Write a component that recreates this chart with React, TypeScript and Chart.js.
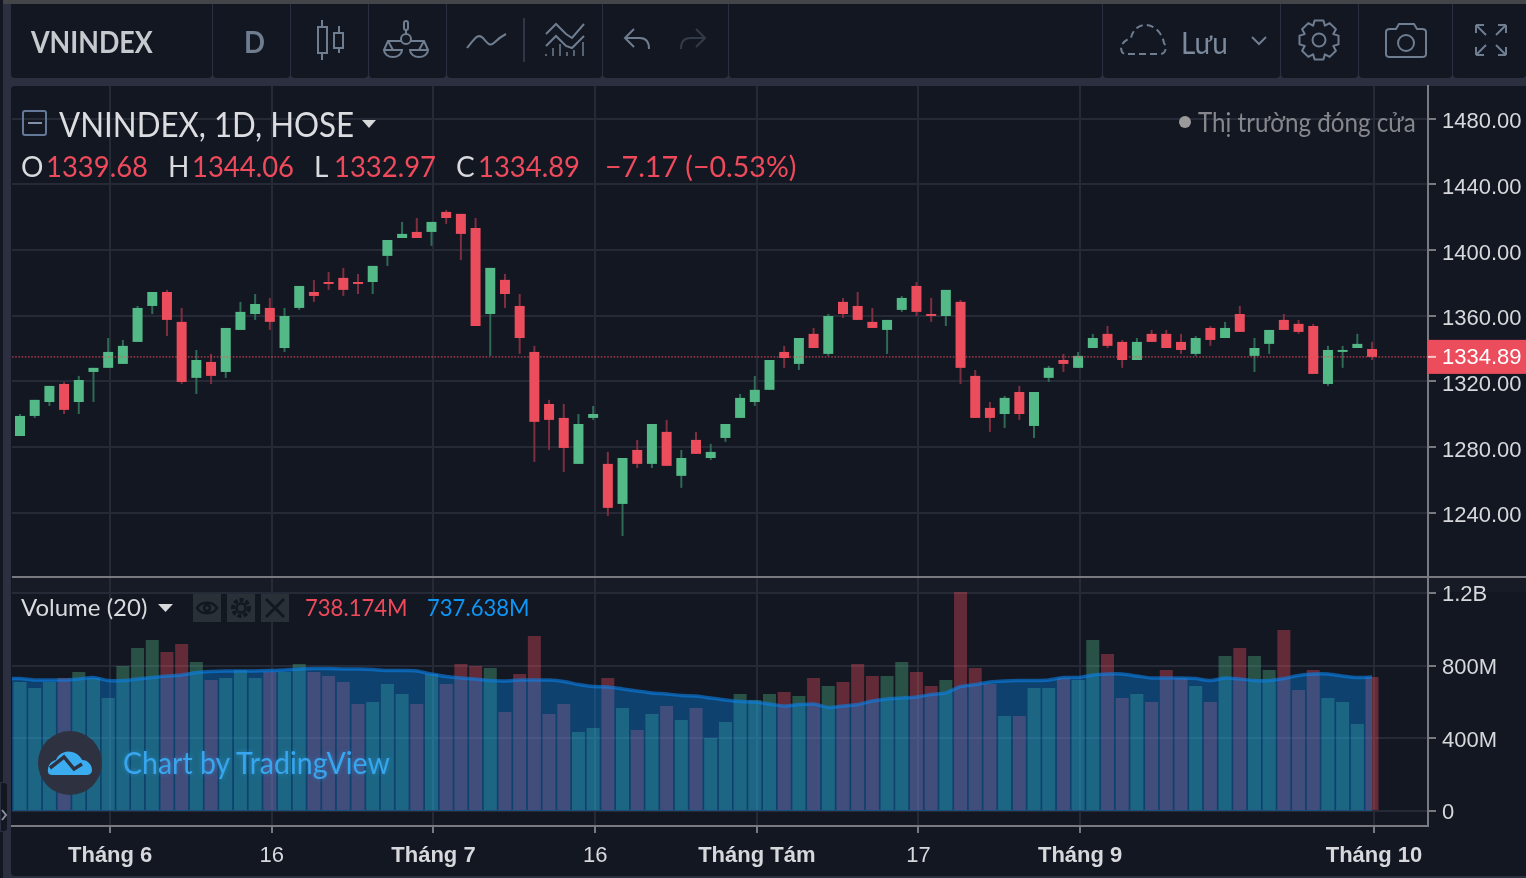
import React, { useEffect, useRef } from "react";
import { Chart, registerables } from "chart.js";

Chart.register(...registerables);

const opens = [1286.7,1298.9,1307.4,1318.4,1307.4,1325.7,1328.2,1330.6,1344.0,1365.9,1374.4,1356.2,1322.1,1331.8,1325.7,1351.3,1361.0,1364.7,1340.3,1364.7,1374.4,1380.5,1383.0,1380.5,1380.5,1396.4,1407.3,1411.0,1411.0,1423.2,1422.0,1413.4,1361.0,1381.8,1365.9,1337.9,1306.2,1297.7,1269.7,1297.7,1269.7,1245.3,1278.2,1269.7,1289.2,1262.4,1284.3,1273.3,1285.5,1297.7,1307.4,1314.8,1337.9,1330.6,1348.9,1336.7,1368.4,1365.9,1356.2,1351.3,1363.5,1378.1,1361.0,1359.8,1368.4,1323.3,1303.8,1300.1,1313.5,1292.8,1322.1,1333.0,1328.2,1340.3,1348.9,1344.0,1333.0,1348.9,1348.9,1344.0,1336.7,1352.5,1346.4,1361.0,1335.5,1342.8,1357.4,1355.0,1353.7,1318.4,1337.9,1340.3,1339.68];
const highs = [1300.1,1308.7,1317.2,1319.6,1323.3,1328.2,1346.4,1345.2,1365.9,1374.4,1375.7,1364.7,1339.1,1336.7,1352.5,1368.4,1373.2,1370.8,1364.7,1378.1,1381.8,1386.6,1389.1,1385.4,1390.3,1406.1,1417.1,1419.5,1417.1,1424.4,1422.0,1419.5,1389.1,1385.4,1373.2,1341.6,1308.7,1306.2,1300.1,1305.0,1277.0,1273.3,1284.3,1294.0,1296.5,1278.2,1289.2,1281.9,1294.0,1312.3,1323.3,1333.0,1341.6,1346.4,1352.5,1361.0,1370.8,1374.4,1364.7,1357.4,1372.0,1380.5,1370.8,1375.7,1369.6,1326.9,1307.4,1311.1,1317.2,1313.5,1329.4,1336.7,1337.9,1348.9,1353.7,1345.2,1346.4,1351.3,1351.3,1348.9,1347.6,1353.7,1356.2,1365.9,1346.4,1351.3,1361.0,1357.4,1355.0,1341.6,1341.6,1348.9,1344.06];
const lows = [1286.7,1297.7,1305.0,1300.1,1300.1,1307.4,1328.2,1330.6,1344.0,1361.0,1347.6,1318.4,1312.3,1318.4,1322.1,1351.3,1357.4,1351.3,1337.9,1363.5,1368.4,1375.7,1372.0,1373.2,1373.2,1390.3,1407.3,1407.3,1402.5,1415.9,1393.9,1353.7,1335.5,1364.7,1336.7,1270.9,1278.2,1264.8,1269.7,1296.5,1238.0,1225.8,1267.2,1267.2,1268.5,1255.1,1275.8,1272.1,1283.1,1297.7,1305.0,1314.8,1328.2,1326.9,1340.3,1335.5,1358.6,1357.4,1352.5,1336.7,1362.3,1359.8,1356.2,1353.7,1318.4,1297.7,1289.2,1291.6,1296.5,1285.5,1319.6,1325.7,1328.2,1340.3,1340.3,1328.2,1333.0,1344.0,1340.3,1336.7,1335.5,1341.6,1346.4,1350.1,1325.7,1336.7,1351.3,1348.9,1324.5,1317.2,1328.2,1340.3,1332.97];
const closes = [1298.9,1308.7,1317.2,1302.6,1320.8,1328.2,1337.9,1341.6,1364.7,1374.4,1357.4,1319.6,1333.0,1323.3,1352.5,1362.3,1367.1,1356.2,1359.8,1378.1,1372.0,1379.3,1375.7,1379.3,1390.3,1406.1,1409.8,1407.3,1417.1,1419.5,1409.8,1353.7,1389.1,1373.2,1346.4,1295.3,1296.5,1279.4,1294.0,1300.1,1242.9,1273.3,1269.7,1294.0,1268.5,1273.3,1275.8,1277.0,1294.0,1309.9,1314.8,1333.0,1334.2,1346.4,1340.3,1359.8,1361.0,1357.4,1352.5,1357.4,1370.8,1362.3,1359.8,1375.7,1328.2,1297.7,1297.7,1309.9,1300.1,1313.5,1328.2,1330.6,1335.5,1346.4,1341.6,1333.0,1344.0,1344.0,1340.3,1339.1,1346.4,1345.2,1352.5,1350.1,1340.3,1351.3,1351.3,1350.1,1324.5,1339.1,1339.1,1342.8,1334.89];
const volumes = [710,677,710,732,765,732,622,798,897,941,875,919,820,721,732,776,732,765,765,809,765,743,710,589,600,699,644,589,754,699,809,798,787,545,754,963,534,589,435,457,732,567,446,534,578,501,567,402,490,644,611,644,655,633,732,688,710,809,743,743,820,765,688,721,1206,787,699,523,523,677,677,732,721,941,864,622,644,600,776,732,688,600,853,897,853,776,996,666,776,622,600,479,738.174];
const volumeMa = [729,721,721,721,727,735,718,718,727,735,743,749,762,768,771,771,771,773,776,782,784,784,782,782,779,773,773,771,754,740,732,727,718,716,721,721,721,713,696,685,683,672,661,650,644,636,633,622,611,603,600,589,578,586,589,570,578,586,606,617,622,628,641,650,685,696,710,716,718,718,721,735,735,749,754,754,743,732,732,732,729,718,732,727,718,718,729,746,754,754,743,735,737.638];
const maBefore = 729;
const lastClose = 1334.89;
const priceTicks = [1240,1280,1320,1360,1400,1440,1480];
const volumeTicks = [0,400,800,1200];
const volumeTickLabels = ["0","400M","800M","1.2B"];
const timeTickIndex = [6,17,28,39,50,61,72,92];
const timeTickLabels = ["Tháng 6","16","Tháng 7","16","Tháng Tám","17","Tháng 9","Tháng 10"];
const timeTickBold = [true,false,true,false,true,false,true,true];

const UP = "#53b987", DOWN = "#eb4d5c";
const UP_WICK = "#2f6a55", DOWN_WICK = "#7f2e40";
const UP_VOL = "rgba(83,185,135,0.36)", DOWN_VOL = "rgba(235,77,92,0.37)";
const GRID = "#262a37", AXIS = "#787a80", LABEL = "#d6d8dc";
const FONT = "'Liberation Sans', Arial, sans-serif";
const UI = "Lato, 'Noto Sans', sans-serif";

const pxPerBar = 14.696;
const dataMin = -8 / pxPerBar;
const dataMax = dataMin + 1416 / pxPerBar;
const gridShift = 2 / pxPerBar;

const isUp = (i: number) => closes[i] >= opens[i];

const decorations = {
  id: "decorations",
  afterDraw(chart: any) {
    const { ctx, scales, chartArea, width } = chart;
    ctx.save();
    ctx.fillStyle = AXIS;
    ctx.fillRect(chartArea.left, scales.y.bottom, width - chartArea.left, 2);
    const y = scales.y.getPixelForValue(lastClose);
    ctx.fillStyle = DOWN;
    ctx.fillRect(chartArea.right, y - 17, width - chartArea.right, 34);
    ctx.fillStyle = "#f5c5ca";
    ctx.fillRect(chartArea.right, y - 1, 8, 2);
    ctx.fillStyle = "#ffffff";
    ctx.font = `22px ${FONT}`;
    ctx.textBaseline = "middle";
    ctx.textAlign = "left";
    ctx.fillText(lastClose.toFixed(2), 1442, y + 1);
    ctx.restore();
  },
};

function Txt({ x, y, size, color, children, weight, font, sx }: any) {
  return (
    <div
      style={{
        position: "absolute", left: x, top: y, transform: "translateY(-50%)" + (sx ? ` scaleX(${sx})` : ""),
        transformOrigin: "left center", fontSize: size, color, fontWeight: weight || 400,
        fontFamily: font || UI, whiteSpace: "nowrap", lineHeight: 1,
      }}
    >
      {children}
    </div>
  );
}

const panels = [[11,212],[213,290],[291,368],[369,446],[447,602],[603,728],[729,1102],[1103,1280],[1281,1358],[1359,1452],[1453,1526]];

function gearPath(cx: number, cy: number, outer: number, inner: number, teeth: number) {
  const pts: string[] = [];
  const step = (Math.PI * 2) / teeth;
  for (let i = 0; i < teeth; i++) {
    const a = i * step - Math.PI / 2;
    [[inner, -0.5], [outer, -0.28], [outer, 0.28], [inner, 0.5]].forEach(([r, f]) => {
      pts.push(`${(cx + r * Math.cos(a + f * step)).toFixed(1)} ${(cy + r * Math.sin(a + f * step)).toFixed(1)}`);
    });
  }
  return "M" + pts.join("L") + "Z";
}

function Icons() {
  const s = "#6e7d90";
  return (
    <svg width={1526} height={878} style={{ position: "absolute", left: 0, top: 0 }} fill="none" stroke={s} strokeWidth={2}>
      {/* candles */}
      <path d="M322 20V27M322 53V60M339 26V33M339 48V53" /><rect x={318} y={27} width={9} height={26} /><rect x={334} y={33} width={9} height={15} />
      {/* compare */}
      <path d="M406 30V35M401 41H388L384 50M411 41H424L428 50M388 41L393 50M424 41L419 50" />
      <circle cx={406} cy={39} r={5} /><rect x={404} y={21} width={4} height={9} rx={2} />
      <path d="M384 50A9 7 0 0 0 402 50ZM410 50A9 7 0 0 0 428 50Z" />
      {/* line + indicators */}
      <path d="M467 48C475 38 478 33 483 38C488 44 490 47 495 42C499 38 502 36 506 34" />
      <path d="M524 18V62" strokeWidth={1.5} stroke="#3a4150" />
      <path d="M546 34L556 24L566 34L572 38L584 24M546 46L556 36L566 46L572 48L584 36" />
      <path d="M546 56V54M553 56V48M560 56V44M567 56V52M574 56V50M583 56V42" strokeWidth={1.5} />
      {/* undo / redo */}
      <path d="M634 29L625 38L634 47M625 38H640C646 38 649 42 649 49" />
      <path d="M696 29L705 38L696 47M705 38H690C684 38 681 42 681 49" stroke="#343b48" />
      {/* cloud */}
      <path d="M1128 54H1160C1166 54 1167 47 1164 43C1162 33 1155 25 1145 25C1137 25 1132 32 1131 38C1124 40 1119 46 1122 52C1123 54 1126 54 1128 54Z" strokeDasharray="7 4" />
      <path d="M1252 37L1259 44L1266 37" />
      {/* gear */}
      <path d={gearPath(1319, 40, 20, 15.5, 8)} strokeLinejoin="round" />
      <circle cx={1319} cy={40} r={6.5} />
      {/* camera */}
      <path d="M1386 32C1386 30 1388 29 1390 29H1396L1399 24H1414L1417 29H1422C1424 29 1426 30 1426 32V54C1426 56 1424 57 1422 57H1390C1388 57 1386 56 1386 54Z" />
      <circle cx={1406} cy={43} r={8} />
      {/* fullscreen */}
      <path d="M1476 25H1484M1476 25V33M1476 25L1486 35M1506 25H1498M1506 25V33M1506 25L1496 35M1476 55H1484M1476 55V47M1476 55L1486 45M1506 55H1498M1506 55V47M1506 55L1496 45" />
      {/* series collapse */}
      <rect x={23} y={111} width={23} height={24} rx={2} stroke="#64799a" />
      <path d="M28 123H42" stroke="#7f90a8" />
      <path d="M362 120H376L369 128Z" fill="#d6d8dc" stroke="none" />
      <path d="M158 604H173L165.5 612Z" fill="#d6d8dc" stroke="none" />
      <circle cx={1185} cy={122} r={6} fill="#9a9a9a" stroke="none" />
      {/* volume buttons */}
      <rect x={193} y={594} width={28} height={28} fill="#2a3038" stroke="none" />
      <rect x={227} y={594} width={28} height={28} fill="#2a3038" stroke="none" />
      <rect x={261} y={594} width={28} height={28} fill="#2a3038" stroke="none" />
      <path d="M197 608C201 601 213 601 217 608C213 615 201 615 197 608Z" stroke="#131722" strokeWidth={2.5} />
      <circle cx={207} cy={608} r={3} stroke="#131722" strokeWidth={2.5} />
      <circle cx={241} cy={608} r={8} stroke="#131722" strokeWidth={4} strokeDasharray="4 2" />
      <circle cx={241} cy={608} r={4.5} stroke="#131722" strokeWidth={2.5} />
      <path d="M266 599L284 617M284 599L266 617" stroke="#131722" strokeWidth={3} />
      {/* watermark logo */}
      <circle cx={70} cy={763} r={32} fill="#2e3240" stroke="none" />
      <path d="M48 772C47 766 51 761 56 760C58 754 65 750 72 752C77 753 81 757 82 760C88 760 92 765 92 770C92 774 89 775 86 775H52C50 775 48 774 48 772Z" fill="#3bacf0" stroke="none" />
      <path d="M50 768L64 757L74 769L82 764" stroke="#2e3240" strokeWidth={3.5} />
      {/* left handle */}
      <path d="M2 810L6 815L2 820" stroke="#8a8f99" />
    </svg>
  );
}

export default function App() {
  const ref = useRef<HTMLCanvasElement>(null);
  useEffect(() => {
    const idx = opens.map((_, i) => i);
    const chart = new Chart(ref.current as HTMLCanvasElement, {
      type: "bar",
      data: {
        datasets: [
          {
            type: "bar", label: "Volume", xAxisID: "xd", yAxisID: "yv", order: 6,
            data: idx.map((i) => ({ x: i, y: volumes[i] })),
            backgroundColor: idx.map((i) => (isUp(i) ? UP_VOL : DOWN_VOL)),
            barThickness: 13, grouped: false, inflateAmount: 0,
          },
          {
            type: "line", label: "Volume MA", xAxisID: "xd", yAxisID: "yv", order: 5,
            data: [{ x: -1, y: maBefore }, ...idx.map((i) => ({ x: i, y: volumeMa[i] }))],
            borderColor: "rgba(10,130,235,0.6)", borderWidth: 3.5, pointRadius: 0, tension: 0.25,
            backgroundColor: "rgba(7,143,249,0.35)", fill: { target: { value: 0 } },
          },
          {
            type: "bar", label: "Wick", xAxisID: "xd", yAxisID: "y", order: 4,
            data: idx.map((i) => ({ x: i, y: [lows[i], highs[i]] })),
            backgroundColor: idx.map((i) => (isUp(i) ? UP_WICK : DOWN_WICK)),
            barThickness: 2, grouped: false, inflateAmount: 0,
          },
          {
            type: "bar", label: "Body", xAxisID: "xd", yAxisID: "y", order: 3,
            data: idx.map((i) => ({ x: i, y: [opens[i], closes[i]] })),
            backgroundColor: idx.map((i) => (isUp(i) ? UP : DOWN)),
            barThickness: 10, grouped: false, inflateAmount: 0,
          },
          {
            type: "line", label: "Last", xAxisID: "xd", yAxisID: "y", order: 1,
            data: [{ x: dataMin, y: lastClose }, { x: dataMax, y: lastClose }],
            borderColor: "rgba(235,77,92,0.55)", borderWidth: 1.6, borderDash: [1.6, 1.6], pointRadius: 0, fill: false,
          },
        ] as any,
      },
      options: {
        responsive: false, animation: false, events: [],
        layout: { padding: { left: 12, top: 86, right: 0, bottom: 0 } },
        plugins: { legend: { display: false }, tooltip: { enabled: false } },
        scales: {
          x: {
            type: "linear", axis: "x", position: "bottom", offset: false, min: dataMin - gridShift, max: dataMax - gridShift,
            afterBuildTicks: (s: any) => { s.ticks = timeTickIndex.map((v) => ({ value: v })); },
            afterFit: (s: any) => { s.height = 52; },
            grid: { color: GRID, lineWidth: 2, tickColor: AXIS, tickLength: 7, offset: false },
            border: { color: AXIS, width: 2 },
            ticks: {
              autoSkip: false, maxRotation: 0, padding: 10, color: LABEL, labelOffset: 0,
              callback: (_v: any, i: number) => timeTickLabels[i],
              font: (c: any) => ({ family: FONT, size: 22, weight: timeTickBold[c.index] ? "bold" : "normal" }),
            },
          },
          xd: { type: "linear", axis: "x", offset: false, display: false, min: dataMin, max: dataMax },
          y: {
            type: "linear", position: "right", stack: "panes", stackWeight: 490, min: 1201.4, max: 1499.9,
            afterBuildTicks: (s: any) => { s.ticks = priceTicks.map((v) => ({ value: v })); },
            afterFit: (s: any) => { s.width = 98; },
            grid: { color: GRID, lineWidth: 2, tickColor: AXIS, tickLength: 8 },
            border: { color: AXIS, width: 2 },
            ticks: {
              padding: 6, color: LABEL, labelOffset: 3.5, autoSkip: false,
              font: { family: FONT, size: 22 }, callback: (v: any) => Number(v).toFixed(2),
            },
          },
          yv: {
            type: "linear", axis: "y", position: "right", stack: "panes", stackWeight: 250, min: -82.6, max: 1293.6,
            afterBuildTicks: (s: any) => { s.ticks = volumeTicks.map((v) => ({ value: v })); },
            afterFit: (s: any) => { s.width = 98; },
            grid: { color: GRID, lineWidth: 2, tickColor: AXIS, tickLength: 8 },
            border: { color: AXIS, width: 2 },
            ticks: {
              padding: 6, color: LABEL, labelOffset: 2.2, autoSkip: false,
              font: { family: FONT, size: 22 },
              callback: (_v: any, i: number) => volumeTickLabels[i],
            },
          },
        },
      } as any,
      plugins: [decorations],
    });
    return () => chart.destroy();
  }, []);

  const red = "#ee4a5b", white = "#d9dade";
  return (
    <div style={{ position: "fixed", left: 0, top: 0, width: 1526, height: 878, overflow: "hidden", background: "#2c2f3f" }}>
      <div style={{ position: "absolute", left: 0, top: 0, width: 1526, height: 4, background: "#444548" }} />
      <div style={{ position: "absolute", left: 0, top: 0, width: 3, height: 878, background: "#131722" }} />
      {panels.map(([a, b], i) => (
        <div key={i} style={{ position: "absolute", left: a, top: 4, width: b - a, height: 74, background: "#131722", borderRadius: "0 0 4px 4px" }} />
      ))}
      <div style={{ position: "absolute", left: 11, top: 86, width: 1515, height: 790, background: "#131722", borderRadius: "4px 0 0 4px" }} />
      <div style={{ position: "absolute", left: 12, top: 578, width: 1514, height: 14, background: "#171b26" }} />
      <div style={{ position: "absolute", left: 0, top: 782, width: 8, height: 50, background: "#131722", border: "1px solid #2c2f3f", borderRadius: "0 4px 4px 0", boxSizing: "border-box" }} />
      <canvas ref={ref} width={1526} height={878} style={{ position: "absolute", left: 0, top: 0, display: "block" }} />
      <Icons />
      <Txt x={31} y={41} size={31} weight={700} color="#c6cacf" sx={0.865}>VNINDEX</Txt>
      <Txt x={244} y={41} size={31} weight={700} color="#6e7d90" sx={0.89}>D</Txt>
      <Txt x={1181} y={42} size={30} color="#7b8a9c" sx={0.93}>Lưu</Txt>

      <Txt x={59} y={124} size={34} color="#dcdde0" sx={0.92}>VNINDEX, 1D, HOSE</Txt>
      <Txt x={21} y={166} size={28} color={white}>O</Txt>
      <Txt x={46} y={166} size={28} color={red} sx={0.98}>1339.68</Txt>
      <Txt x={168} y={166} size={28} color={white}>H</Txt>
      <Txt x={192} y={166} size={28} color={red} sx={0.98}>1344.06</Txt>
      <Txt x={314} y={166} size={28} color={white}>L</Txt>
      <Txt x={334} y={166} size={28} color={red} sx={0.98}>1332.97</Txt>
      <Txt x={456} y={166} size={28} color={white}>C</Txt>
      <Txt x={478} y={166} size={28} color={red} sx={0.98}>1334.89</Txt>
      <Txt x={605} y={166} size={28} color={red} sx={1.02}>−7.17 (−0.53%)</Txt>
      <Txt x={1198} y={122} size={26} color="#85878c" sx={0.93}>Thị trường đóng cửa</Txt>

      <Txt x={21} y={607} size={24} color={white}>Volume (20)</Txt>
      <Txt x={305} y={607} size={24} color={red} sx={0.92}>738.174M</Txt>
      <Txt x={427} y={607} size={24} color="#0d96f5" sx={0.92}>737.638M</Txt>
      <Txt x={123} y={762} size={30} color="#37a6ef" sx={0.95}>
        <span style={{ textShadow: "0 0 5px rgba(55,166,239,0.45)" }}>Chart by TradingView</span>
      </Txt>
    </div>
  );
}
